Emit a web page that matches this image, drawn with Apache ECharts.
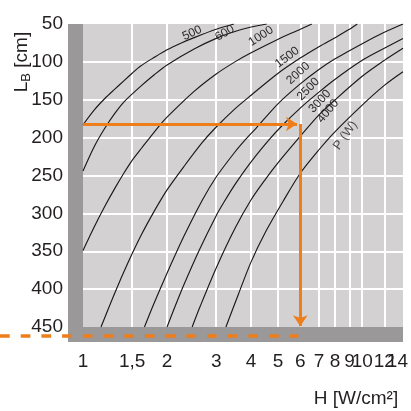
<!DOCTYPE html>
<html><head><meta charset="utf-8">
<script src="https://cdn.jsdelivr.net/npm/echarts@6/dist/echarts.min.js"></script>
<style>html,body{margin:0;padding:0;background:#fff}#c{width:411px;height:411px}</style>
</head><body><div id="c"></div>
<script>
// X tick labels (H, W/cm2, log scale) and vertical grid positions
const xTicks = [1, 1.5, 2, 3, 4, 5, 6, 7, 8, 9, 10, 12];
const xLastTick = [14];
const xGrid = [1.5, 2, 3, 4, 5, 6, 7, 8, 9, 10, 12];
// Y tick labels (LB, cm) and horizontal grid positions
const yTicks = [50, 100, 150, 200, 250, 300, 350, 400, 450];
const yGrid = [100, 150, 200, 250, 300, 350, 400];

// Curves: [H, LB] per power P (W)
const p500 = [[1,183],[1.1,163],[1.2,148],[1.3,136],[1.4,125],[1.5,115],[1.6,106],[1.8,94],[2,84],[2.25,75],[2.5,68],[3,57],[3.47,50]];
const p600 = [[1,244],[1.1,211],[1.2,187],[1.3,168],[1.4,153],[1.6,133],[1.8,117],[2,104],[2.5,83],[3,69],[3.5,60],[4,54],[4.55,50]];
const p1000 = [[1,349],[1.1,317],[1.2,290],[1.3,267],[1.4,247],[1.5,230],[1.62,214],[1.86,186],[2,173],[2.5,139],[3,116],[3.5,100],[4,88],[5,70],[6,57],[6.6,50]];
const p1500 = [[1.16,450],[1.3,405],[1.45,365],[1.62,328],[1.8,297],[2,269],[2.3,238],[2.68,206],[3,186],[3.5,162],[4,144],[5,115],[6,95],[7,80],[8,68],[9,57],[9.6,50]];
const p2000 = [[1.66,450],[1.8,418],[2,379],[2.3,330],[2.68,282],[3,252],[3.5,219],[3.81,203],[4.18,187],[5,155],[6,129],[7,110],[8,96],[10,76],[12,61],[14,50]];
const p2500 = [[2,450],[2.11,428],[2.3,394],[2.62,347],[3,303],[3.2,285],[3.5,262],[4,232],[4.66,202],[5.17,184],[6,161],[7,140],[8,123],[10,98],[12,82],[14,69]];
const p3000 = [[2.46,450],[2.62,424],[3,372],[3.5,320],[4,282],[4.5,255],[5,233],[5.85,203],[7,170],[8,150],[10,119],[12,98],[14,82]];
const p4000 = [[3.25,450],[3.6,407],[4,364],[4.5,325],[5.21,284],[6,247],[7,216],[8,192],[10,157],[12,131],[14,113]];

const curveNames = ['500','600','1000','1500','2000','2500','3000','4000'];
const curveData = [p500, p600, p1000, p1500, p2000, p2500, p3000, p4000];
// label anchor [H, LB] and rotation (deg) for each curve label
const labelPos = [[2.46,62],[3.22,62],[4.34,66],[5.39,94],[5.9,115],[6.41,136],[7.05,152],[7.54,165]];
const labelRot = [25, 30, 33, 37, 42, 46, 47, 50];
const pwLabel = 'P (W)';
const pwPos = [8.7, 197];

// Example reading
const exH = 6, exL = 182, arrowTipH = 5.84, arrowTipL = 449;
const dashLine = [[0.504, 462], [6, 462]];

const ORANGE = '#ef7d1a';
const INK = '#231f20';
const FONT = "'Liberation Sans', Arial, sans-serif";

const tickLabelStyle = { margin: 25, fontSize: 19, color: INK, fontFamily: FONT };

const series = curveData.map((d, i) => ({
  type: 'line', xAxisIndex: 1, yAxisIndex: 1, data: d, showSymbol: false, smooth: 0.3,
  lineStyle: { color: '#1a1a1a', width: 1.15 }, z: 3, silent: true,
  markPoint: {
    symbol: 'circle', symbolSize: 0, silent: true,
    label: { show: true, formatter: curveNames[i], rotate: labelRot[i], fontSize: 12, color: '#2a2a2a', fontFamily: FONT },
    data: [{ coord: labelPos[i] }]
  }
}));
series.push({
  type: 'scatter', xAxisIndex: 1, yAxisIndex: 1, symbolSize: 0, silent: true,
  data: [pwPos],
  label: { show: true, formatter: pwLabel, rotate: 55, fontSize: 12.5, color: '#2a2a2a', fontFamily: FONT, position: 'inside' }
});
series.push({
  type: 'lines', coordinateSystem: 'cartesian2d', xAxisIndex: 1, yAxisIndex: 1, z: 5,
  symbol: ['none', 'arrow'], symbolSize: 11,
  lineStyle: { color: ORANGE, width: 3, opacity: 1, curveness: 0 },
  data: [{ coords: [[1, exL], [arrowTipH, exL]] }, { coords: [[exH, exL], [exH, arrowTipL]] }]
});
series.push({
  type: 'line', xAxisIndex: 2, yAxisIndex: 2, data: dashLine, showSymbol: false, clip: false, z: 5, silent: true,
  lineStyle: { color: ORANGE, width: 3.5, type: [9.7, 11] }
});

const chart = echarts.init(document.getElementById('c'));
chart.setOption({
  animation: false,
  grid: [
    { left: 68, top: 24, right: 8, bottom: 69, show: true, backgroundColor: '#9a9899', borderWidth: 0 },
    { left: 83, top: 24, right: 8, bottom: 84, show: true, backgroundColor: '#d3d1d2', borderWidth: 0 },
    { left: 0, top: 24, right: 8, bottom: 84, show: false }
  ],
  xAxis: [
    { type: 'value', gridIndex: 0, show: false, min: 0, max: 1 },
    { type: 'log', gridIndex: 1, logBase: 10, min: 1, max: 14,
      axisLine: { show: false }, axisTick: { show: false, customValues: xGrid },
      splitLine: { show: true, lineStyle: { color: '#ffffff', width: 2 } },
      axisLabel: Object.assign({ customValues: xTicks, formatter: v => (v === 1.5 ? '1,5' : String(v)) }, tickLabelStyle) },
    { type: 'log', gridIndex: 2, logBase: 10, min: 0.504, max: 14,
      axisLine: { show: false }, axisTick: { show: false }, splitLine: { show: false },
      axisLabel: Object.assign({ customValues: xLastTick, padding: [0, 6, 0, 0] }, tickLabelStyle) }
  ],
  yAxis: [
    { type: 'value', gridIndex: 0, show: false, min: 0, max: 1 },
    { type: 'value', gridIndex: 1, inverse: true, min: 50, max: 450, interval: 50,
      axisLine: { show: false }, axisTick: { show: false, customValues: yGrid },
      splitLine: { show: true, lineStyle: { color: '#ffffff', width: 2 } },
      axisLabel: Object.assign({ customValues: yTicks }, tickLabelStyle, { margin: 20 }) },
    { type: 'value', gridIndex: 2, show: false, inverse: true, min: 50, max: 450 }
  ],
  graphic: [
    { type: 'text', x: 22, y: 62, rotation: Math.PI / 2,
      style: { text: '{l|L}{b|B}{l| [cm]}', align: 'center', verticalAlign: 'middle', fill: INK,
        rich: { l: { fontSize: 19, fontFamily: FONT, fill: INK }, b: { fontSize: 13, fontFamily: FONT, fill: INK, padding: [8, 0, 0, 0] } } } },
    { type: 'text', x: 356, y: 399,
      style: { text: 'H [W/cm²]', align: 'center', verticalAlign: 'middle', fill: INK, font: "19px 'Liberation Sans', Arial, sans-serif" } }
  ],
  series: series
});
</script>
</body></html>
